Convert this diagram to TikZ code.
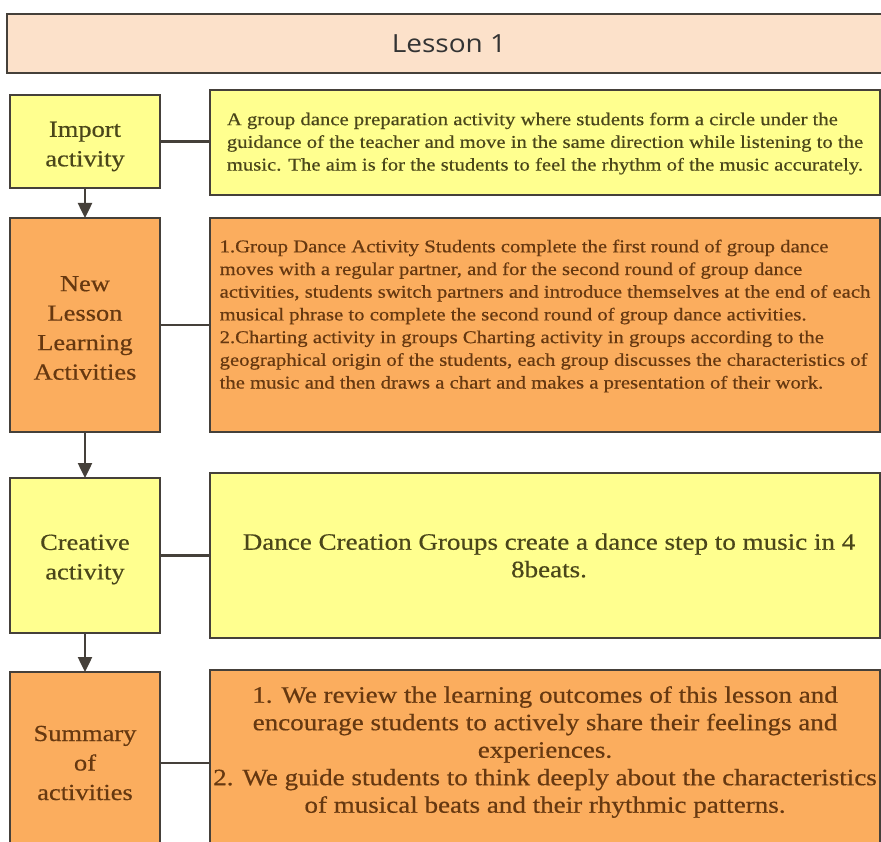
\documentclass[tikz,border=0pt]{standalone}
\usepackage{fontspec}
\setmainfont{Liberation Serif}[FakeStretch=1.15,FakeBold=0.5]
\newfontfamily\hdrfont{Open Sans}[FakeStretch=1.12]
\usetikzlibrary{arrows.meta}
\definecolor{hdrfill}{HTML}{FCE1CA}
\definecolor{yel}{HTML}{FFFF8F}
\definecolor{org}{HTML}{FBAD5E}
\definecolor{edge}{HTML}{45403A}
\definecolor{ytext}{HTML}{4A461A}
\definecolor{otext}{HTML}{663810}
\definecolor{htext}{HTML}{333333}
\begin{document}
\begin{tikzpicture}[x=1pt,y=-1pt,
  box/.style={draw=edge, line width=2.5pt, rectangle, anchor=north west, inner sep=0pt, outer sep=0pt},
  ybox/.style={box, fill=yel},
  obox/.style={box, fill=org},
  lbltxt/.style={inner sep=0pt, font=\fontsize{23}{29.5}\selectfont, align=center},
  descbox/.style={minimum width=670pt},
  smalltxt/.style={inner sep=0pt, font=\fontsize{18}{22.7}\selectfont, align=left},
  bigtxt/.style={inner sep=0pt, font=\fontsize{23.5}{27.5}\selectfont, align=center},
  link/.style={draw=edge, line width=2.5pt},
  flow/.style={draw=edge, line width=2.5pt, -{Triangle[length=15pt,width=14pt]}}
]
\useasboundingbox (0,0) rectangle (881,842);
\clip (0,0) rectangle (881,842);
\fill[white] (0,0) rectangle (881,842);

% header
\node[box, fill=hdrfill, minimum width=890pt, minimum height=59pt] (hdr) at (7,14) {};
\node[text=htext, inner sep=0pt, font=\hdrfont\fontsize{25}{29}\selectfont] (hdrt) at (449,44) {Lesson 1};

% row 1
\node[ybox, minimum width=150pt, minimum height=93pt] (imp) at (10,95) {};
\node[lbltxt, text=ytext] (impt) at ([yshift=-5pt]imp.center) {Import\\activity};
\node[ybox, descbox, minimum height=105pt] (impd) at (210,90) {};
\node[smalltxt, text=ytext] (impdt) at ([yshift=-1pt]impd.center)
 {A group dance preparation activity where students form a circle under the\\
  guidance of the teacher and move in the same direction while listening to the\\
  music. The aim is for the students to feel the rhythm of the music accurately.};

% row 2
\node[obox, minimum width=150pt, minimum height=214pt] (nl) at (10,218) {};
\node[lbltxt, text=otext] (nlt) at ([yshift=-3pt]nl.center) {New\\Lesson\\Learning\\Activities};
\node[obox, descbox, minimum height=214pt] (nld) at (210,218) {};
\node[smalltxt, text=otext] (nldt) at ([yshift=9pt]nld.center)
 {1.Group Dance Activity Students complete the first round of group dance\\
  moves with a regular partner, and for the second round of group dance\\
  activities, students switch partners and introduce themselves at the end of each\\
  musical phrase to complete the second round of group dance activities.\\
  2.Charting activity in groups Charting activity in groups according to the\\
  geographical origin of the students, each group discusses the characteristics of\\
  the music and then draws a chart and makes a presentation of their work.};

% row 3
\node[ybox, minimum width=150pt, minimum height=155pt] (cr) at (10,478) {};
\node[lbltxt, text=ytext] (crt) at ([yshift=-4pt]cr.center) {Creative\\activity};
\node[ybox, descbox, minimum height=165pt] (crd) at (210,473) {};
\node[bigtxt, text=ytext] (crdt) at ([xshift=4pt]crd.center)
 {Dance Creation Groups create a dance step to music in 4\\8beats.};

% row 4
\node[obox, minimum width=150pt, minimum height=182pt] (sm) at (10,672) {};
\node[lbltxt, text=otext] (smt) at (sm.center) {Summary\\of\\activities};
\node[obox, descbox, minimum height=200pt] (smd) at (210,670) {};
\node[bigtxt, text=otext] (smdt) at (545,752)
 {1. We review the learning outcomes of this lesson and\\
  encourage students to actively share their feelings and\\
  experiences.\\
  2. We guide students to think deeply about the characteristics\\
  of musical beats and their rhythmic patterns.};

% connectors
\draw[link] (imp.east) -- (imp.east -| impd.west);
\draw[link] (nl.east) -- (nl.east -| nld.west);
\draw[link] (cr.east) -- (cr.east -| crd.west);
\draw[link] (sm.east) -- (sm.east -| smd.west);

% flow arrows
\draw[flow] (imp.south) -- (nl.north);
\draw[flow] (nl.south) -- (cr.north);
\draw[flow] (cr.south) -- (sm.north);
\end{tikzpicture}
\end{document}
